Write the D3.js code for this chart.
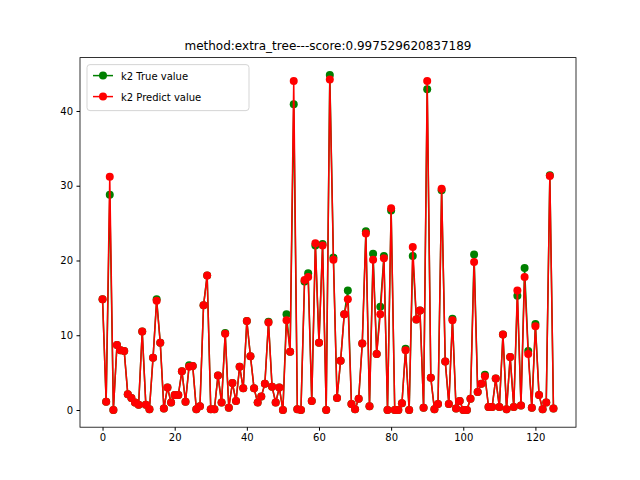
<!DOCTYPE html>
<html><head><meta charset="utf-8">
<script src="https://cdn.jsdelivr.net/npm/d3@7"></script>
<style>body{margin:0;background:#fff}text{font-family:"DejaVu Sans",sans-serif}</style>
</head><body><svg width="640" height="480"></svg>
<script>
const predicted = [14.8,1.1,31.2,0,8.7,8.0,7.9,2.1,1.6,1.0,0.7,10.5,0.7,0.1,7.0,14.6,9.0,0.2,3.0,1.0,
  2.0,2.0,5.2,1.1,5.8,5.9,0.1,0.5,14.0,18.0,0.1,0.1,4.6,1.0,10.2,0.3,3.6,1.2,5.8,2.9,
  11.9,7.2,2.9,1.0,1.8,3.5,11.7,3.1,1.0,3.0,0.0,12.0,7.8,44.0,0.1,0.0,17.4,17.8,1.2,22.3,
  9.0,22.0,0.0,44.2,20.1,1.6,6.6,12.8,14.8,0.8,0.1,1.5,8.9,23.6,0.5,20.1,7.5,12.8,20.3,0,
  27.0,0,0,0.9,8.0,0,21.8,12.1,13.3,0.3,44.0,4.3,0.1,0.8,29.6,6.5,0.8,12.0,0.2,1.2,
  0,0,1.5,19.8,2.4,3.5,4.5,0.4,0.4,4.2,0.4,10.1,0.1,7.1,0.4,16.0,0.6,17.8,7.5,0.3,
  11.2,2.0,0.1,1.0,31.3,0.2];
const actual = [14.8,1.1,28.8,0,8.7,8.0,7.9,2.1,1.6,1.0,0.7,10.5,0.7,0.1,7.0,14.8,9.0,0.2,3.0,1.0,
  2.0,2.0,5.2,1.1,6.0,5.9,0.1,0.5,14.0,18.0,0.1,0.1,4.6,1.0,10.3,0.3,3.6,1.2,5.8,2.9,
  11.9,7.2,2.9,1.0,1.8,3.5,11.8,3.1,1.0,3.0,0.0,12.8,7.8,40.9,0.1,0.0,17.2,18.3,1.2,22.0,
  9.0,22.2,0.0,44.8,20.4,1.6,6.6,12.8,16.0,0.8,0.1,1.5,8.9,23.9,0.5,20.9,7.5,13.8,20.6,0,
  26.7,0,0,0.9,8.2,0,20.6,12.1,13.3,0.3,42.9,4.3,0.1,0.8,29.4,6.5,0.8,12.2,0.2,1.2,
  0,0,1.5,20.8,2.4,3.5,4.7,0.4,0.4,4.2,0.4,10.1,0.1,7.1,0.4,15.3,0.6,19.0,7.9,0.3,
  11.5,2.0,0.1,1.0,31.4,0.2];
const xTicks = [0,20,40,60,80,100,120];
const yTicks = [0,10,20,30,40];

const svg = d3.select("svg");
const m = {l:80, r:576, t:57.6, b:427.2};
const x = d3.scaleLinear().domain([-6.25,131.25]).range([m.l,m.r]);
const y = d3.scaleLinear().domain([-2.3,47.14]).range([m.b,m.t]);

svg.append("g").attr("transform",`translate(0,${m.b})`)
  .call(d3.axisBottom(x).tickValues(xTicks).tickSize(3.5).tickPadding(3.5))
  .call(g=>g.select(".domain").remove());
svg.append("g").attr("transform",`translate(${m.l},0)`)
  .call(d3.axisLeft(y).tickValues(yTicks).tickSize(3.5).tickPadding(3.5))
  .call(g=>g.select(".domain").remove());
svg.selectAll(".tick text").attr("font-size",10).attr("fill","#000");
svg.selectAll(".tick line").attr("stroke","#000");
svg.append("rect").attr("x",m.l).attr("y",m.t).attr("width",m.r-m.l).attr("height",m.b-m.t)
  .attr("fill","none").attr("stroke","#000").attr("stroke-width",0.8);

const line = d3.line().x((d,i)=>x(i)).y(d=>y(d));
[[actual,"green"],[predicted,"red"]].forEach(([data,c])=>{
  svg.append("path").datum(data).attr("d",line).attr("fill","none").attr("stroke",c).attr("stroke-width",1.5);
  svg.append("g").selectAll("circle").data(data).join("circle")
    .attr("cx",(d,i)=>x(i)).attr("cy",d=>y(d)).attr("r",4).attr("fill",c);
});

svg.append("text").attr("x",(m.l+m.r)/2).attr("y",50).attr("text-anchor","middle")
  .attr("font-size",12).text("method:extra_tree---score:0.997529620837189");

const lg = svg.append("g").attr("transform",`translate(${m.l+7},${m.t+7})`);
lg.append("rect").attr("width",162).attr("height",46).attr("rx",3).attr("fill","#fff")
  .attr("stroke","#ccc").attr("opacity",0.8);
[["k2 True value","green"],["k2 Predict value","red"]].forEach(([t,c],i)=>{
  const yy = 11+i*21;
  lg.append("line").attr("x1",6).attr("x2",26).attr("y1",yy).attr("y2",yy).attr("stroke",c).attr("stroke-width",1.5);
  lg.append("circle").attr("cx",16).attr("cy",yy).attr("r",4).attr("fill",c);
  lg.append("text").attr("x",34).attr("y",yy+4).attr("font-size",10).text(t);
});
</script></body></html>
